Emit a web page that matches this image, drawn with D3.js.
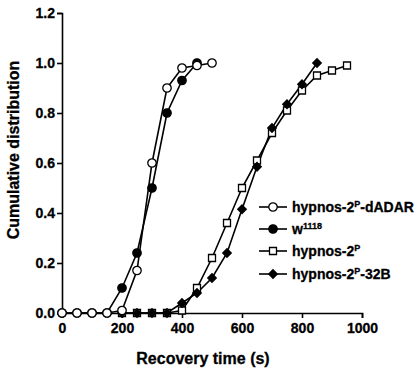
<!DOCTYPE html>
<html>
<head>
<meta charset="utf-8">
<script src="https://cdn.jsdelivr.net/npm/d3@7"></script>
<style>
  body { margin: 0; background: #fff; }
  svg text { font-family: "Liberation Sans", Arial, sans-serif; font-weight: bold; fill: #000; stroke: #000; stroke-width: 0.3px; }
</style>
</head>
<body>
<div id="chart"></div>
<script>
// data
var dadarX = [0, 50, 100, 150, 200, 250, 300, 350, 400, 450, 500];
var dadarY = [0, 0, 0, 0, 0.01, 0.17, 0.60, 0.90, 0.98, 0.99, 1.0];

var w1118X = [0, 50, 100, 150, 200, 250, 300, 350, 400, 450];
var w1118Y = [0, 0, 0, 0, 0.10, 0.24, 0.50, 0.80, 0.93, 1.0];

var hypX = [200, 250, 300, 350, 400, 450, 500, 550, 600, 650, 700, 750, 800, 850, 900, 950];
var hypY = [0, 0, 0, 0.0, 0.01, 0.10, 0.22, 0.36, 0.50, 0.61, 0.72, 0.81, 0.89, 0.95, 0.97, 0.99];

var b32X = [200, 250, 300, 350, 400, 450, 500, 550, 600, 650, 700, 750, 800, 850];
var b32Y = [0, 0, 0, 0, 0.04, 0.08, 0.14, 0.24, 0.415, 0.585, 0.74, 0.835, 0.915, 1.0];

var xTicks = [0, 200, 400, 600, 800, 1000];
var yTicks = [0, 0.2, 0.4, 0.6, 0.8, 1.0, 1.2];

var svgWidth = 420, svgHeight = 373;

var svg = d3.select("#chart")
  .append("svg")
  .attr("width", svgWidth)
  .attr("height", svgHeight);

var xScale = d3.scaleLinear().domain([0, 1000]).range([62, 362]);
var yScale = d3.scaleLinear().domain([0, 1.2]).range([313, 13]);

// squat diamond like the printed marker
var wideDiamond = {
  draw: function(ctx, size) {
    var r = Math.sqrt(size / 2);
    ctx.moveTo(0, -r);
    ctx.lineTo(r, 0);
    ctx.lineTo(0, r);
    ctx.lineTo(-r, 0);
    ctx.closePath();
  }
};

// axes
var xAxis = svg.append("g")
  .attr("transform", "translate(0," + yScale(0) + ")")
  .call(d3.axisBottom(xScale).tickValues(xTicks).tickSize(5).tickPadding(5).tickFormat(d3.format("d")));

var yAxis = svg.append("g")
  .attr("transform", "translate(" + xScale(0) + ",0)")
  .call(d3.axisLeft(yScale).tickValues(yTicks).tickSize(5).tickPadding(2).tickFormat(d3.format(".1f")));

[xAxis, yAxis].forEach(function(a) {
  a.select(".domain").attr("stroke", "#000").attr("stroke-width", 1.6);
  a.selectAll(".tick line").attr("stroke", "#000").attr("stroke-width", 1.6);
  a.selectAll(".tick text").style("font-size", "14px");
});

// axis titles
svg.append("text")
  .attr("x", 203)
  .attr("y", 364)
  .attr("text-anchor", "middle")
  .style("font-size", "16px")
  .text("Recovery time (s)");

svg.append("text")
  .attr("transform", "translate(19,150) rotate(-90)")
  .attr("text-anchor", "middle")
  .style("font-size", "16px")
  .text("Cumulative distribution");

// series
var line = d3.line()
  .x(d => xScale(d[0]))
  .y(d => yScale(d[1]));

function pairs(xs, ys) {
  return xs.map((x, i) => [x, ys[i]]);
}

var series = [
  { name: "hyp", data: pairs(hypX, hypY), shape: d3.symbolSquare, size: 49, fill: "#fff" },
  { name: "b32", data: pairs(b32X, b32Y), shape: wideDiamond, size: 36, fill: "#000" },
  { name: "w1118", data: pairs(w1118X, w1118Y), shape: d3.symbolCircle, size: 56, fill: "#000" },
  { name: "dadar", data: pairs(dadarX, dadarY), shape: d3.symbolCircle, size: 56, fill: "#fff" }
];

series.forEach(function(s) {
  svg.append("path")
    .datum(s.data)
    .attr("d", line)
    .attr("fill", "none")
    .attr("stroke", "#000")
    .attr("stroke-width", 1.6);
});

series.forEach(function(s) {
  svg.selectAll(".m-" + s.name)
    .data(s.data)
    .enter()
    .append("path")
    .attr("class", "m-" + s.name)
    .attr("transform", d => "translate(" + xScale(d[0]) + "," + yScale(d[1]) + ")")
    .attr("d", d3.symbol().type(s.shape).size(s.size))
    .attr("fill", s.fill)
    .attr("stroke", "#000")
    .attr("stroke-width", 1.3);
});

// legend
var legend = [
  { shape: d3.symbolCircle, size: 56, fill: "#fff", parts: [["hypnos-2", false], ["P", true], ["-dADAR", false]] },
  { shape: d3.symbolCircle, size: 56, fill: "#000", parts: [["w", false], ["1118", true]] },
  { shape: d3.symbolSquare, size: 49, fill: "#fff", parts: [["hypnos-2", false], ["P", true]] },
  { shape: wideDiamond, size: 36, fill: "#000", parts: [["hypnos-2", false], ["P", true], ["-32B", false]] }
];
var legY = [207, 229, 251, 274];

legend.forEach(function(l, i) {
  var g = svg.append("g").attr("transform", "translate(0," + legY[i] + ")");
  g.append("line")
    .attr("x1", 259).attr("x2", 287)
    .attr("stroke", "#000").attr("stroke-width", 1.6);
  g.append("path")
    .attr("transform", "translate(273,0)")
    .attr("d", d3.symbol().type(l.shape).size(l.size))
    .attr("fill", l.fill).attr("stroke", "#000").attr("stroke-width", 1.3);
  var t = g.append("text").attr("x", 292).attr("y", 5).style("font-size", "14px");
  l.parts.forEach(function(p) {
    if (p[1]) {
      t.append("tspan").attr("dy", -5).style("font-size", "9px").text(p[0]);
    } else {
      var ts = t.append("tspan").text(p[0]);
      if (t.selectAll("tspan").size() > 1) ts.attr("dy", 5);
    }
  });
});
</script>
</body>
</html>
